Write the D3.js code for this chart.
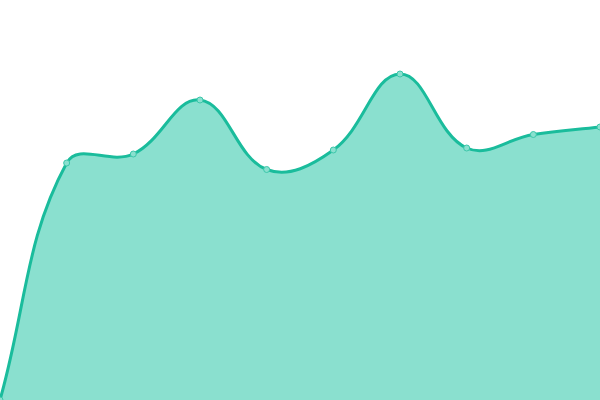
<!DOCTYPE html>
<html><head><meta charset="utf-8">
<script src="https://cdn.jsdelivr.net/npm/d3@7"></script>
<style>html,body{margin:0;padding:0;background:#fff;}svg{display:block;}</style>
</head><body>
<svg id="c" width="600" height="400"></svg>
<script>
const labels = [0,1,2,3,4,5,6,7,8,9];
const values = [0, 237, 246, 300, 230.5, 250, 326, 252, 265.5, 273];

const W = 600, H = 400, TENSION = 0.4;
const svg = d3.select("#c");
const x = d3.scaleLinear().domain([0, labels.length - 1]).range([0, W]);
const y = d3.scaleLinear().domain([0, 400]).range([H, 0]);
const pts = labels.map((l, i) => ({x: x(l), y: y(values[i])}));

// Chart.js-style distance-weighted spline control points
function controls(points, t) {
  const n = points.length;
  return points.map((cur, i) => {
    const prev = points[Math.max(i - 1, 0)], next = points[Math.min(i + 1, n - 1)];
    const d01 = Math.hypot(cur.x - prev.x, cur.y - prev.y);
    const d12 = Math.hypot(next.x - cur.x, next.y - cur.y);
    let s01 = d01 / (d01 + d12), s12 = d12 / (d01 + d12);
    if (isNaN(s01)) s01 = 0; if (isNaN(s12)) s12 = 0;
    const fa = t * s01, fb = t * s12;
    return {
      px: cur.x - fa * (next.x - prev.x), py: cur.y - fa * (next.y - prev.y),
      nx: cur.x + fb * (next.x - prev.x), ny: cur.y + fb * (next.y - prev.y)
    };
  });
}
function splinePath(p, points, cps) {
  p.moveTo(points[0].x, points[0].y);
  for (let i = 1; i < points.length; i++) {
    p.bezierCurveTo(cps[i-1].nx, cps[i-1].ny, cps[i].px, cps[i].py, points[i].x, points[i].y);
  }
  return p;
}
const cps = controls(pts, TENSION);
const lineP = splinePath(d3.path(), pts, cps);
const areaP = splinePath(d3.path(), pts, cps);
areaP.lineTo(pts[pts.length-1].x, y(0));
areaP.lineTo(pts[0].x, y(0));
areaP.closePath();

svg.append("path").attr("fill", "#8ae0cf").attr("d", areaP.toString());
svg.append("path").attr("fill", "none").attr("stroke", "#1abc9c").attr("stroke-width", 3)
  .attr("d", lineP.toString());
svg.selectAll("circle").data(pts).join("circle")
  .attr("cx", d => d.x).attr("cy", d => d.y).attr("r", 3)
  .attr("fill", "#8ae0cf").attr("stroke", "#3cc7aa").attr("stroke-width", 1);
</script>
</body></html>
